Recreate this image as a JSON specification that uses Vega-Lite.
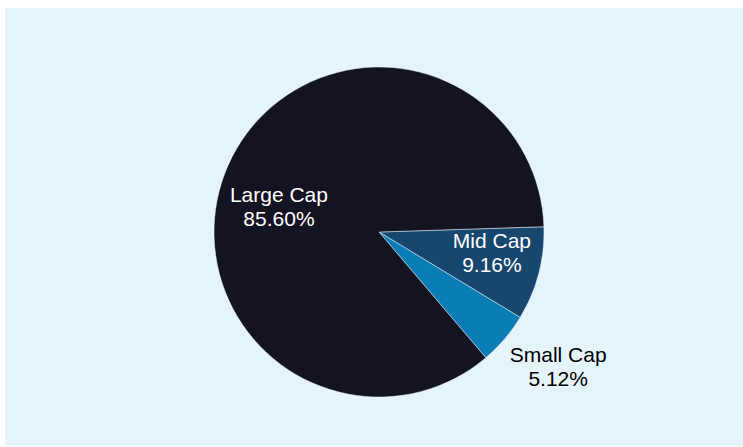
{
  "$schema": "https://vega.github.io/schema/vega-lite/v6.json",
  "width": 738,
  "height": 438,
  "autosize": "none",
  "padding": {"left": 5, "top": 8, "right": 0, "bottom": 1},
  "background": "white",
  "view": {"fill": "#e5f4fa", "stroke": null},
  "data": {
    "values": [
      {"cat": "Mid Cap", "value": 9.16, "order": 1},
      {"cat": "Small Cap", "value": 5.12, "order": 2},
      {"cat": "Large Cap", "value": 85.60, "order": 3}
    ]
  },
  "transform": [
    {"calculate": "datum.cat + '\\n' + format(datum.value, '.2f') + '%'", "as": "label"}
  ],
  "encoding": {
    "theta": {"field": "value", "type": "quantitative", "stack": true, "scale": {"range": [1.539, 7.822]}},
    "order": {"field": "order", "type": "quantitative"},
    "color": {
      "field": "cat",
      "type": "nominal",
      "scale": {"domain": ["Large Cap", "Mid Cap", "Small Cap"], "range": ["#141322", "#17476f", "#0a7cb6"]},
      "legend": null
    }
  },
  "layer": [
    {"mark": {"type": "arc", "outerRadius": 165, "stroke": "#e5f4fa", "strokeWidth": 0.5, "xOffset": 5, "yOffset": 5}},
    {
      "mark": {"type": "text", "radius": 103, "thetaOffset": -0.178, "fontSize": 21, "font": "Liberation Sans", "lineBreak": "\n", "lineHeight": 24, "dy": -12, "xOffset": 5, "yOffset": 5},
      "encoding": {
        "text": {"condition": {"test": "datum.cat === 'Large Cap'", "field": "label"}, "value": ""},
        "color": {"value": "white"}
      }
    },
    {
      "mark": {"type": "text", "radius": 115, "thetaOffset": -0.065, "fontSize": 21, "font": "Liberation Sans", "lineBreak": "\n", "lineHeight": 24, "dy": -12, "xOffset": 5, "yOffset": 5},
      "encoding": {
        "text": {"condition": {"test": "datum.cat === 'Mid Cap'", "field": "label"}, "value": ""},
        "color": {"value": "white"}
      }
    },
    {
      "mark": {"type": "text", "radius": 225, "thetaOffset": -0.056, "fontSize": 21, "font": "Liberation Sans", "lineBreak": "\n", "lineHeight": 24, "dy": -12, "xOffset": 5, "yOffset": 5},
      "encoding": {
        "text": {"condition": {"test": "datum.cat === 'Small Cap'", "field": "label"}, "value": ""},
        "color": {"value": "black"}
      }
    }
  ]
}
